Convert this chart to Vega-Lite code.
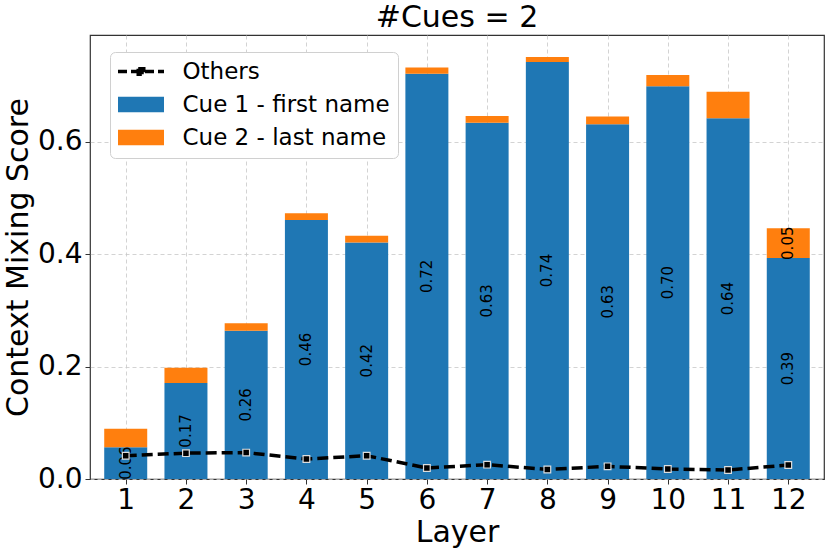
{
  "$schema": "https://vega.github.io/schema/vega-lite/v6.json",
  "width": 734,
  "height": 444,
  "autosize": "none",
  "padding": {"left": 90, "top": 35, "right": 6, "bottom": 72},
  "title": {"text": "#Cues = 2", "fontSize": 30, "fontWeight": "normal", "offset": 2, "color": "black"},
  "config": {
    "font": "DejaVu Sans",
    "view": {"stroke": "#333", "strokeWidth": 1.2},
    "axis": {
      "domain": false,
      "labelFontSize": 28,
      "titleFontSize": 30,
      "titleFontWeight": "normal",
      "labelColor": "black",
      "titleColor": "black",
      "tickColor": "#333",
      "tickSize": 5,
      "gridColor": "#c8c8c8",
      "gridDash": [4, 3],
      "gridWidth": 0.8,
      "zindex": 1
    },
    "legend": {
      "labelFontSize": 23,
      "labelColor": "black",
      "labelLimit": 400
    }
  },
  "data": {
    "values": [
      {"layer": 1, "Cue 1 - first name": 0.0564, "Cue 2 - last name": 0.033, "Others": 0.0415},
      {"layer": 2, "Cue 1 - first name": 0.171, "Cue 2 - last name": 0.027, "Others": 0.046},
      {"layer": 3, "Cue 1 - first name": 0.264, "Cue 2 - last name": 0.013, "Others": 0.047},
      {"layer": 4, "Cue 1 - first name": 0.461, "Cue 2 - last name": 0.012, "Others": 0.0356},
      {"layer": 5, "Cue 1 - first name": 0.421, "Cue 2 - last name": 0.012, "Others": 0.0415},
      {"layer": 6, "Cue 1 - first name": 0.721, "Cue 2 - last name": 0.011, "Others": 0.0196},
      {"layer": 7, "Cue 1 - first name": 0.634, "Cue 2 - last name": 0.012, "Others": 0.0255},
      {"layer": 8, "Cue 1 - first name": 0.742, "Cue 2 - last name": 0.009, "Others": 0.017},
      {"layer": 9, "Cue 1 - first name": 0.631, "Cue 2 - last name": 0.014, "Others": 0.0225},
      {"layer": 10, "Cue 1 - first name": 0.699, "Cue 2 - last name": 0.02, "Others": 0.0178},
      {"layer": 11, "Cue 1 - first name": 0.642, "Cue 2 - last name": 0.047, "Others": 0.016},
      {"layer": 12, "Cue 1 - first name": 0.393, "Cue 2 - last name": 0.053, "Others": 0.0249}
    ]
  },
  "encoding": {
    "x": {
      "field": "layer",
      "type": "quantitative",
      "title": "Layer",
      "scale": {"domain": [0.49, 12.51], "nice": false, "zero": false},
      "axis": {"values": [1, 2, 3, 4, 5, 6, 7, 8, 9, 10, 11, 12], "format": "d", "labelPadding": 2, "titlePadding": 3, "labelFlush": false}
    }
  },
  "layer": [
    {
      "transform": [{"fold": ["Cue 1 - first name", "Cue 2 - last name"], "as": ["series", "score"]}],
      "mark": {"type": "bar", "width": 43},
      "encoding": {
        "y": {
          "field": "score",
          "type": "quantitative",
          "stack": "zero",
          "title": "Context Mixing Score",
          "scale": {"domain": [0, 0.79], "nice": false},
          "axis": {"values": [0, 0.2, 0.4, 0.6], "format": ".1f", "labelPadding": 3, "titlePadding": 4}
        },
        "color": {
          "field": "series",
          "type": "nominal",
          "scale": {
            "domain": ["Others", "Cue 1 - first name", "Cue 2 - last name"],
            "range": ["black", "#1f77b4", "#ff7f0e"]
          },
          "legend": {
            "title": null,
            "orient": "none",
            "legendX": 20,
            "legendY": 17,
            "padding": 8,
            "rowPadding": 9,
            "fillColor": "white",
            "strokeColor": "#d0d0d0",
            "cornerRadius": 5,
            "symbolType": "M-2,-0.68H2V0.68H-2Z",
            "symbolSize": 529,
            "symbolOffset": 11.5,
            "labelOffset": 30,
            "encoding": {
              "symbols": {
                "shape": {"value": {"expr": "datum.value === 'Others' ? 'M-2,0H-0.35M0.35,0H2M-0.24,-0.24H0.24V0.24H-0.24Z' : 'M-2,-0.68H2V0.68H-2Z'"}},
                "fill": {"value": {"expr": "datum.value === 'Others' ? 'black' : (datum.value === 'Cue 1 - first name' ? '#1f77b4' : '#ff7f0e')"}},
                "stroke": {"value": {"expr": "datum.value === 'Others' ? 'black' : 'transparent'"}},
                "strokeWidth": {"value": {"expr": "datum.value === 'Others' ? 3.5 : 0"}},
                "strokeDash": {"value": {"expr": "datum.value === 'Others' ? [9, 4] : [1, 0]"}},
                "opacity": {"value": 1}
              }
            }
          }
        },
        "order": {"field": "series"}
      }
    },
    {
      "transform": [
        {"fold": ["Cue 1 - first name", "Cue 2 - last name"], "as": ["series", "score"]},
        {"filter": "datum.score >= 0.05"}
      ],
      "mark": {"type": "text", "angle": 270, "fontSize": 15, "color": "black", "align": "center", "baseline": "middle"},
      "encoding": {
        "y": {"field": "score", "type": "quantitative", "stack": "zero", "bandPosition": 0.5, "title": "Context Mixing Score"},
        "detail": {"field": "series"},
        "order": {"field": "series"},
        "text": {"field": "score", "type": "quantitative", "format": ".2f"}
      }
    },
    {
      "mark": {
        "type": "line",
        "strokeWidth": 3.5,
        "strokeDash": [11, 5],
        "point": {"shape": "square", "size": 45, "filled": true, "fill": "black", "stroke": "#dddddd", "strokeWidth": 1.2}
      },
      "encoding": {
        "y": {"field": "Others", "type": "quantitative", "title": "Context Mixing Score"},
        "color": {"datum": "Others"}
      }
    }
  ]
}
